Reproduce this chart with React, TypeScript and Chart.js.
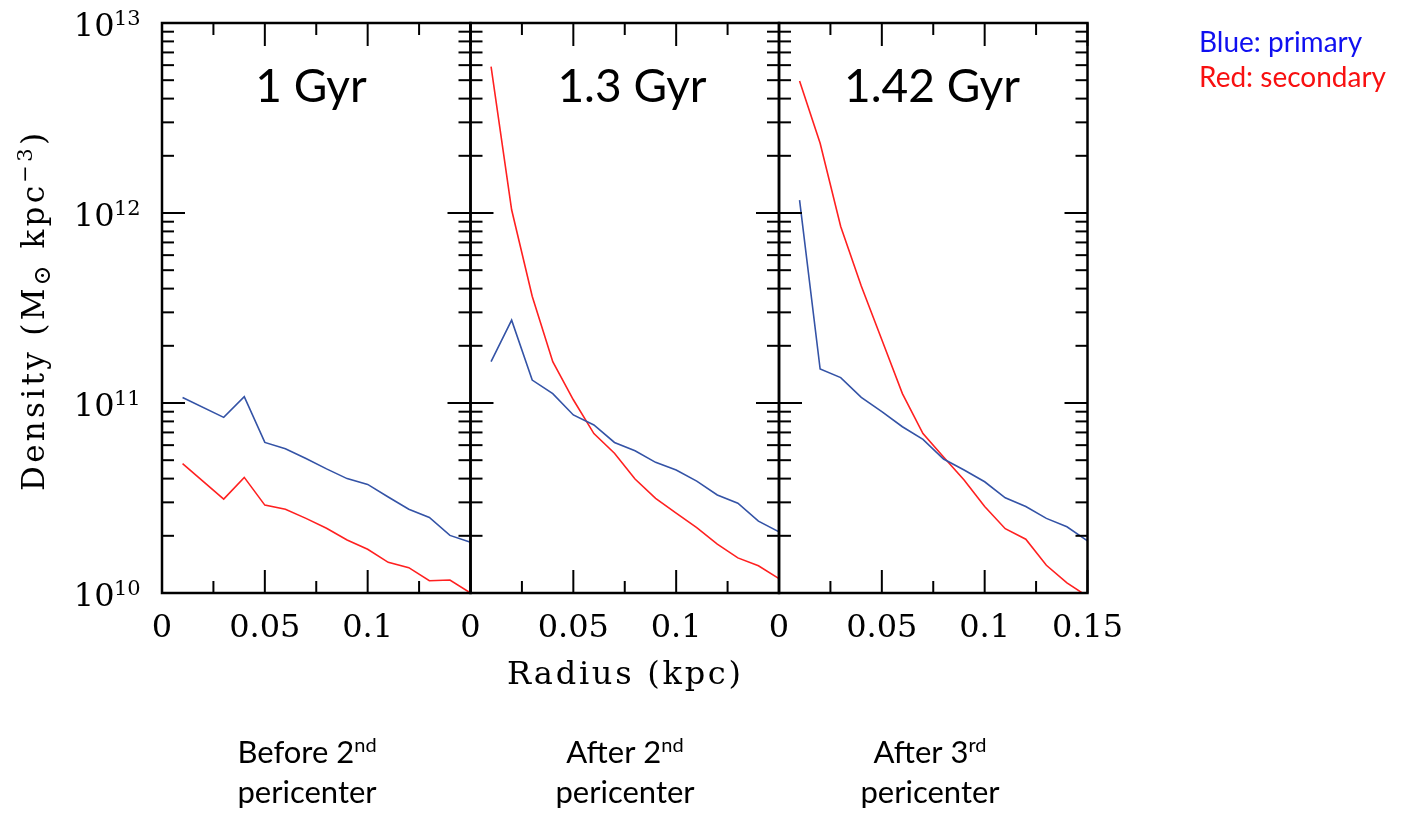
import React, { useEffect, useRef } from "react";
import { Chart, registerables } from "chart.js";

Chart.register(...registerables);

const PAGE_W = 1403;
const PAGE_H = 822;

// ---------- data (radius in kpc, density in Msun kpc^-3) ----------
const radius1Gyr = [0.01, 0.03, 0.04, 0.05, 0.06, 0.07, 0.08, 0.09, 0.1, 0.11, 0.12, 0.13, 0.14, 0.15];
const primary1Gyr = [1.07e11, 8.4e10, 1.08e11, 6.2e10, 5.75e10, 5.1e10, 4.5e10, 4.0e10, 3.73e10, 3.2e10, 2.76e10, 2.5e10, 2.01e10, 1.85e10];
const secondary1Gyr = [4.8e10, 3.12e10, 4.06e10, 2.9e10, 2.76e10, 2.47e10, 2.19e10, 1.9e10, 1.7e10, 1.45e10, 1.36e10, 1.16e10, 1.17e10, 1.0e10];

const radius13Gyr = [0.01, 0.02, 0.03, 0.04, 0.05, 0.06, 0.07, 0.08, 0.09, 0.1, 0.11, 0.12, 0.13, 0.14, 0.15];
const primary13Gyr = [1.65e11, 2.73e11, 1.32e11, 1.12e11, 8.65e10, 7.66e10, 6.2e10, 5.6e10, 4.87e10, 4.44e10, 3.88e10, 3.28e10, 2.97e10, 2.39e10, 2.1e10];
const secondary13Gyr = [5.9e12, 1.04e12, 3.65e11, 1.65e11, 1.04e11, 6.9e10, 5.44e10, 3.98e10, 3.15e10, 2.63e10, 2.21e10, 1.81e10, 1.53e10, 1.39e10, 1.19e10];

const radius142Gyr = [0.01, 0.02, 0.03, 0.04, 0.05, 0.06, 0.07, 0.08, 0.09, 0.1, 0.11, 0.12, 0.13, 0.14, 0.15];
const primary142Gyr = [1.17e12, 1.51e11, 1.36e11, 1.07e11, 9.0e10, 7.5e10, 6.44e10, 5.07e10, 4.44e10, 3.85e10, 3.17e10, 2.85e10, 2.47e10, 2.23e10, 1.88e10];
const secondary142Gyr = [4.95e12, 2.33e12, 8.5e11, 4.13e11, 2.15e11, 1.12e11, 6.9e10, 5.2e10, 3.93e10, 2.85e10, 2.18e10, 1.92e10, 1.4e10, 1.13e10, 9.6e9];

// ---------- labels & ticks ----------
const panelTitles = ["1 Gyr", "1.3 Gyr", "1.42 Gyr"];
const stageFirstLines = ["Before 2", "After 2", "After 3"];
const stageOrdinals = ["nd", "nd", "rd"];
const stageSecondLine = "pericenter";
const xMajorTicks = [0, 0.05, 0.1, 0.15];
const xMinorTicks = [0.025, 0.075, 0.125];
const xLabelValues = [[0, 0.05, 0.1], [0, 0.05, 0.1], [0, 0.05, 0.1, 0.15]];
const xLabelTexts = [["0", "0.05", "0.1"], ["0", "0.05", "0.1"], ["0", "0.05", "0.1", "0.15"]];
const yDecades = [1e10, 1e11, 1e12, 1e13];
const yDecadeExponents = ["10", "11", "12", "13"];
const yMinorMultipliers = [2, 3, 4, 5, 6, 7, 8, 9];
const legendPrimary = "Blue: primary";
const legendSecondary = "Red: secondary";
const xAxisTitle = "Radius (kpc)";

const panels = [
  { radius: radius1Gyr, primary: primary1Gyr, secondary: secondary1Gyr },
  { radius: radius13Gyr, primary: primary13Gyr, secondary: secondary13Gyr },
  { radius: radius142Gyr, primary: primary142Gyr, secondary: secondary142Gyr },
];

// ---------- layout / style ----------
const PLOT_LEFT = 162;
const PANEL_W = 308.5;
const PLOT_TOP = 23;
const PLOT_BOTTOM = 593;
const MAJOR = 23;
const MINOR = 12;
const BLUE_LINE = "#3453a6";
const RED_LINE = "#ff2020";
const SERIF = "'DejaVu Serif'";
const SANS = "Lato";
const titleCenters = [311, 632, 932];
const stageCenters = [307, 625, 930];

type Run = { text: string; font: string; dy?: number };

function drawFitted(ctx: CanvasRenderingContext2D, runs: Run[], x: number, y: number, target: number, align: "left" | "center") {
  let natural = 0;
  let n = 0;
  for (const r of runs) {
    ctx.font = r.font;
    for (const ch of Array.from(r.text)) {
      natural += ctx.measureText(ch).width;
      n++;
    }
  }
  const spacing = n > 1 ? (target - natural) / (n - 1) : 0;
  let cx = align === "center" ? x - target / 2 : x;
  ctx.textAlign = "left";
  for (const r of runs) {
    ctx.font = r.font;
    for (const ch of Array.from(r.text)) {
      ctx.fillText(ch, cx, y + (r.dy || 0));
      cx += ctx.measureText(ch).width + spacing;
    }
  }
}

function drawRunsCentered(ctx: CanvasRenderingContext2D, runs: Run[], cx: number, y: number) {
  let w = 0;
  for (const r of runs) {
    ctx.font = r.font;
    w += ctx.measureText(r.text).width;
  }
  let x = cx - w / 2;
  ctx.textAlign = "left";
  for (const r of runs) {
    ctx.font = r.font;
    ctx.fillText(r.text, x, y + (r.dy || 0));
    x += ctx.measureText(r.text).width;
  }
}

const framePlugin = {
  id: "panelFrame",
  afterDatasetsDraw(chart: any, _args: any, opts: any) {
    const idx: number = opts.index;
    const ctx: CanvasRenderingContext2D = chart.ctx;
    const a = chart.chartArea;
    const xs = chart.scales.x;
    const ys = chart.scales.y;
    ctx.save();
    ctx.strokeStyle = "#000";
    ctx.fillStyle = "#000";
    ctx.lineCap = "butt";
    const seg = (x1: number, y1: number, x2: number, y2: number) => {
      ctx.beginPath();
      ctx.moveTo(x1, y1);
      ctx.lineTo(x2, y2);
      ctx.stroke();
    };
    ctx.lineWidth = 2;
    for (const v of xMajorTicks) {
      const p = xs.getPixelForValue(v);
      seg(p, a.bottom, p, a.bottom - MAJOR);
      seg(p, a.top, p, a.top + MAJOR);
    }
    for (const v of xMinorTicks) {
      const p = xs.getPixelForValue(v);
      seg(p, a.bottom, p, a.bottom - MINOR);
      seg(p, a.top, p, a.top + MINOR);
    }
    for (let d = 0; d < yDecades.length; d++) {
      const p = ys.getPixelForValue(yDecades[d]);
      seg(a.left, p, a.left + MAJOR, p);
      seg(a.right, p, a.right - MAJOR, p);
      if (d < yDecades.length - 1) {
        for (const m of yMinorMultipliers) {
          const q = ys.getPixelForValue(m * yDecades[d]);
          seg(a.left, q, a.left + MINOR, q);
          seg(a.right, q, a.right - MINOR, q);
        }
      }
    }
    ctx.lineWidth = 2.5;
    ctx.strokeRect(a.left, a.top, a.right - a.left, a.bottom - a.top);

    // x tick labels
    ctx.textBaseline = "alphabetic";
    ctx.textAlign = "center";
    ctx.font = `32px ${SERIF}`;
    xLabelValues[idx].forEach((v, k) => {
      ctx.fillText(xLabelTexts[idx][k], xs.getPixelForValue(v), 637);
    });

    // panel title
    ctx.textAlign = "center";
    ctx.font = `46px ${SANS}`;
    ctx.fillText(panelTitles[idx], titleCenters[idx], 101.5);

    // stage label below
    drawRunsCentered(
      ctx,
      [
        { text: stageFirstLines[idx], font: `31px ${SANS}` },
        { text: stageOrdinals[idx], font: `20px ${SANS}`, dy: -11 },
      ],
      stageCenters[idx],
      763
    );
    ctx.textAlign = "center";
    ctx.font = `31px ${SANS}`;
    ctx.fillText(stageSecondLine, stageCenters[idx], 803);

    if (idx === 0) {
      // y tick labels
      for (let d = 0; d < yDecades.length; d++) {
        const p = ys.getPixelForValue(yDecades[d]);
        ctx.textAlign = "right";
        ctx.font = `32px ${SERIF}`;
        ctx.fillText("10", 114.5, p + 13);
        ctx.textAlign = "left";
        ctx.font = `21px ${SERIF}`;
        ctx.fillText(yDecadeExponents[d], 114, p + 2);
      }
      // x axis title
      drawFitted(ctx, [{ text: xAxisTitle, font: `32px ${SERIF}` }], 624, 684, 234, "center");
      // y axis title (rotated)
      ctx.save();
      ctx.translate(44, 491);
      ctx.rotate(-Math.PI / 2);
      drawFitted(
        ctx,
        [
          { text: "Density (M", font: `31px ${SERIF}` },
          { text: "\u2299", font: `24px ${SERIF}`, dy: 6 },
          { text: " kpc", font: `31px ${SERIF}` },
          { text: "\u22123", font: `21px ${SERIF}`, dy: -12 },
          { text: ")", font: `31px ${SERIF}` },
        ],
        0,
        0,
        358,
        "left"
      );
      ctx.restore();
      // legend text
      ctx.textAlign = "left";
      ctx.font = `28px ${SANS}`;
      ctx.fillStyle = "#1010f0";
      ctx.fillText(legendPrimary, 1199, 52);
      ctx.fillStyle = "#f81010";
      ctx.fillText(legendSecondary, 1199, 87);
    }
    ctx.restore();
  },
};

function Panel({ index }: { index: number }) {
  const ref = useRef<HTMLCanvasElement | null>(null);
  useEffect(() => {
    const canvas = ref.current;
    if (!canvas) return;
    const p = panels[index];
    const left = PLOT_LEFT + PANEL_W * index;
    const right = left + PANEL_W;
    const chart = new Chart(canvas, {
      type: "line",
      data: {
        datasets: [
          {
            label: "primary",
            data: p.radius.map((r, k) => ({ x: r, y: p.primary[k] })),
            borderColor: BLUE_LINE,
            borderWidth: 1.6,
            pointRadius: 0,
            fill: false,
            tension: 0,
          },
          {
            label: "secondary",
            data: p.radius.map((r, k) => ({ x: r, y: p.secondary[k] })),
            borderColor: RED_LINE,
            borderWidth: 1.6,
            pointRadius: 0,
            fill: false,
            tension: 0,
          },
        ],
      },
      options: {
        responsive: false,
        animation: false,
        devicePixelRatio: 1,
        events: [],
        layout: {
          padding: { left: left, right: PAGE_W - right, top: PLOT_TOP, bottom: PAGE_H - PLOT_BOTTOM },
        },
        scales: {
          x: { type: "linear", min: 0, max: 0.15, display: false },
          y: { type: "logarithmic", min: 1e10, max: 1e13, display: false },
        },
        plugins: {
          legend: { display: false },
          tooltip: { enabled: false },
          panelFrame: { index },
        } as any,
      },
      plugins: [framePlugin],
    });
    let alive = true;
    const fonts: any = (document as any).fonts;
    if (fonts && fonts.ready) {
      fonts.ready.then(() => {
        if (alive) chart.draw();
      });
    }
    return () => {
      alive = false;
      chart.destroy();
    };
  }, [index]);
  return (
    <canvas
      ref={ref}
      width={PAGE_W}
      height={PAGE_H}
      style={{ position: "absolute", left: 0, top: 0, width: PAGE_W, height: PAGE_H }}
    />
  );
}

export default function App() {
  return (
    <div style={{ position: "absolute", left: 0, top: 0, width: PAGE_W, height: PAGE_H, background: "#fff", overflow: "hidden" }}>
      {panels.map((_, i) => (
        <Panel key={i} index={i} />
      ))}
    </div>
  );
}
